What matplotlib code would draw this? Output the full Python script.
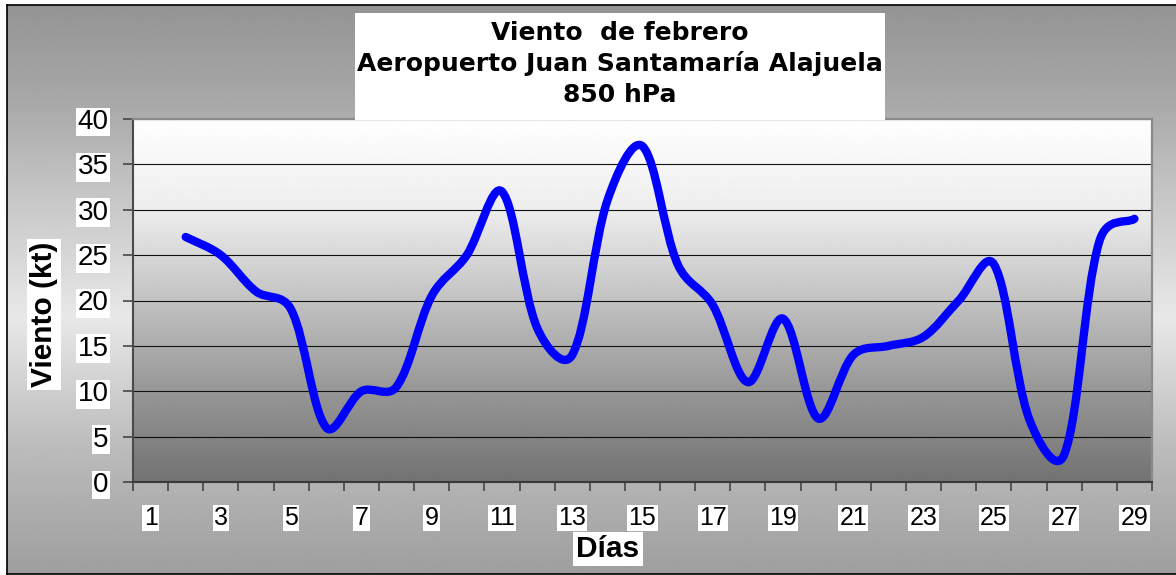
import numpy as np
import matplotlib.pyplot as plt
from matplotlib.path import Path
from matplotlib.patches import PathPatch, Rectangle

plt.rcParams['font.family'] = ['Liberation Sans', 'DejaVu Sans']

# data: day 1 has no value
wind_days = list(range(2, 30))
wind_kt = [27, 25, 21, 19, 6, 10, 10.5, 20.5, 25, 32, 17, 14, 31, 37,
           24, 19.5, 11, 18, 7, 14, 15, 16, 20, 24, 7, 3, 26.5, 29]
label_days = list(range(1, 30, 2))
xtick_labels = [str(d) for d in label_days]
ytick_vals = list(range(0, 45, 5))
title_lines = ['Viento  de febrero', 'Aeropuerto Juan Santamaría Alajuela', '850 hPa']

W, H = 1176, 575


def fx(px):
    return px / W


def fy(py):
    return 1 - py / H


def smooth_path(xs, ys, ax, blend=0.5):
    """Excel-like smoothed line: Bezier arms partly weighted by on-screen chord lengths."""
    pts = np.column_stack([xs, ys]).astype(float)
    scr = ax.transData.transform(pts)
    n = len(pts)
    d = np.hypot(*np.diff(scr, axis=0).T)
    after, before = [], []
    for i in range(n):
        p_prev = pts[max(i - 1, 0)]
        p_next = pts[min(i + 1, n - 1)]
        d_prev = d[i - 1] if i > 0 else 0.0
        d_next = d[i] if i < n - 1 else 0.0
        t = p_next - p_prev
        tot = d_prev + d_next
        k_next = blend / 6 + (1 - blend) * d_next / tot / 3
        k_prev = blend / 6 + (1 - blend) * d_prev / tot / 3
        after.append(pts[i] + t * k_next)
        before.append(pts[i] - t * k_prev)
    verts = [pts[0]]
    codes = [Path.MOVETO]
    for i in range(n - 1):
        verts += [after[i], before[i + 1], pts[i + 1]]
        codes += [Path.CURVE4] * 3
    return Path(verts, codes)


fig = plt.figure(figsize=(W / 100, H / 100), dpi=100)

# chart area background (dark - light - dark vertical gradient)
bg = fig.add_axes([fx(7), fy(574), 1.0, fy(5) - fy(574)], zorder=-5)
grad = np.interp(np.linspace(0, 1, 400), [0, 0.17, 0.34, 0.55, 0.77, 1.0],
                 [0.58, 0.66, 0.78, 0.91, 0.74, 0.62])
bg.imshow(np.tile(grad[:, None], (1, 2)), cmap='gray', vmin=0, vmax=1,
          aspect='auto', extent=(0, 1, 0, 1), origin='upper')
bg.set_xticks([])
bg.set_yticks([])
for side in ['left', 'top', 'bottom']:
    bg.spines[side].set_color('black')
    bg.spines[side].set_linewidth(1.2)
bg.spines['right'].set_visible(False)

ax = fig.add_axes([fx(133), fy(482), fx(1152) - fx(133), fy(119) - fy(482)])
grad2 = np.interp(np.linspace(0, 1, 400), [0, 0.25, 0.5, 0.75, 1.0],
                  [1.0, 0.93, 0.76, 0.59, 0.45])
ax.imshow(np.tile(grad2[:, None], (1, 2)), cmap='gray', vmin=0, vmax=1,
          aspect='auto', extent=(0.5, 29.5, 0, 40), origin='upper', zorder=0)

ax.set_xlim(0.5, 29.5)
ax.set_ylim(0, 40)
ax.add_patch(PathPatch(smooth_path(wind_days, wind_kt, ax), fill=False,
                       edgecolor='#0000ff', lw=6, capstyle='round',
                       joinstyle='round', zorder=3))
ax.set_xlim(0.5, 29.5)
ax.set_ylim(0, 40)

ax.set_yticks(ytick_vals)
ax.yaxis.grid(True, color='#111111', lw=0.8)
ax.tick_params(axis='y', direction='out', length=7, width=1.1, color='#3a3a3a',
               pad=10.5, labelsize=20)
ax.set_xticks(np.arange(0.5, 30, 1))
ax.set_xticklabels([])
ax.set_xticks(label_days, minor=True)
ax.set_xticklabels(xtick_labels, minor=True)
ax.tick_params(axis='x', which='major', direction='out', length=6.5, width=1.1,
               color='#3a3a3a')
ax.tick_params(axis='x', which='minor', length=0, pad=17.3, labelsize=18)

ax.spines['top'].set_color('#8a8a8a')
ax.spines['right'].set_color('#8a8a8a')
ax.spines['top'].set_linewidth(1.6)
ax.spines['right'].set_linewidth(1.6)
ax.spines['left'].set_color('#4a4a4a')
ax.spines['bottom'].set_color('#3a3a3a')
ax.spines['left'].set_linewidth(1.5)
ax.spines['bottom'].set_linewidth(1.5)

white_box = dict(boxstyle='square,pad=0.05', fc='white', ec='none')
for lab in ax.get_yticklabels() + ax.get_xticklabels(minor=True):
    lab.set_bbox(white_box)

# title box
fig.add_artist(Rectangle((fx(355), fy(120.5)), fx(885) - fx(355),
                         fy(12.7) - fy(120.5), transform=fig.transFigure,
                         fc='white', ec='none', zorder=2))
for line, base in zip(title_lines, [40, 70.5, 101.5]):
    fig.text(fx(620), fy(base), line, ha='center', va='baseline', fontsize=18,
             fontweight='bold', family='DejaVu Sans', zorder=4)

label_box = dict(boxstyle='square,pad=0.1', fc='white', ec='none')
fig.text(fx(44), fy(314.5), 'Viento (kt)', rotation=90, ha='center', va='center',
         fontsize=21.5, fontweight='bold', bbox=label_box, zorder=4)
fig.text(fx(608), fy(557), 'Días', ha='center', va='baseline',
         fontsize=21.5, fontweight='bold', bbox=label_box, zorder=4)

fig.savefig('out.png', dpi=100)
